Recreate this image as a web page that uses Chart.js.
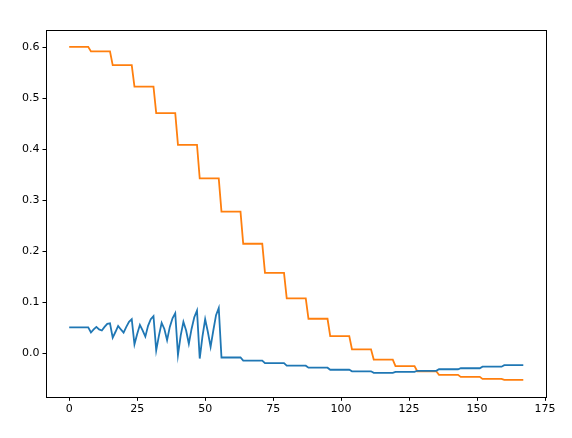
<!DOCTYPE html>
<html>
<head>
<meta charset="utf-8">
<script src="https://cdn.jsdelivr.net/npm/chart.js@4/dist/chart.umd.min.js"></script>
<style>
  html, body { margin: 0; padding: 0; background: #fff; }
  #wrap { width: 572px; height: 438px; }
</style>
</head>
<body>
<div id="wrap"><canvas id="canvas"></canvas></div>
<script>
// orange series: one level per block of 8 steps
const orangeLevels = [0.601, 0.592, 0.565, 0.523, 0.471, 0.409, 0.343, 0.278, 0.215, 0.158,
  0.108, 0.068, 0.034, 0.008, -0.012, -0.025, -0.035, -0.042, -0.046, -0.050, -0.052];

// blue series: flat start, noisy part (x 8..55), then levels per block of 8
const blueStart = [0.051, 0.051, 0.051, 0.051, 0.051, 0.051, 0.051, 0.051];
const blueNoisy = [0.041, 0.047, 0.052, 0.047, 0.045, 0.052, 0.058, 0.059,
  0.031, 0.042, 0.054, 0.047, 0.041, 0.052, 0.062, 0.067,
  0.018, 0.038, 0.056, 0.045, 0.033, 0.054, 0.067, 0.073,
  0.006, 0.035, 0.060, 0.048, 0.026, 0.052, 0.069, 0.079,
  -0.003, 0.035, 0.062, 0.045, 0.019, 0.048, 0.071, 0.084,
  -0.010, 0.033, 0.067, 0.042, 0.013, 0.045, 0.075, 0.089];
const blueLevels = [-0.008, -0.014, -0.019, -0.024, -0.028, -0.032, -0.035, -0.038,
  -0.036, -0.034, -0.031, -0.029, -0.026, -0.023];

const xTicks = [0, 25, 50, 75, 100, 125, 150, 175];
const yTicks = [0.0, 0.1, 0.2, 0.3, 0.4, 0.5, 0.6];

const blockSize = 8;
const orange = [];
orangeLevels.forEach(v => { for (let i = 0; i < blockSize; i++) orange.push(v); });
const blue = blueStart.concat(blueNoisy);
blueLevels.forEach(v => { for (let i = 0; i < blockSize; i++) blue.push(v); });

const toPoints = arr => arr.map((y, x) => ({ x, y }));

const frame = {
  id: 'frame',
  afterDraw(chart) {
    const { ctx, chartArea: a } = chart;
    ctx.save();
    ctx.strokeStyle = '#000';
    ctx.lineWidth = 1;
    ctx.strokeRect(Math.round(a.left) + 0.5, Math.round(a.top) + 0.5,
      Math.round(a.right - a.left), Math.round(a.bottom - a.top));
    ctx.restore();
  }
};

const tickFont = { family: 'DejaVu Sans', size: 11 };

new Chart(document.getElementById('canvas'), {
  type: 'scatter',
  data: {
    datasets: [
      { data: toPoints(blue), borderColor: '#1f77b4', backgroundColor: '#1f77b4',
        showLine: true, borderWidth: 1.8, pointRadius: 0, tension: 0 },
      { data: toPoints(orange), borderColor: '#ff7f0e', backgroundColor: '#ff7f0e',
        showLine: true, borderWidth: 1.8, pointRadius: 0, tension: 0 }
    ]
  },
  options: {
    animation: false,
    responsive: true,
    maintainAspectRatio: false,
    layout: { padding: { left: 19, right: 26, top: 30, bottom: 20 } },
    plugins: { legend: { display: false }, tooltip: { enabled: false } },
    scales: {
      x: {
        type: 'linear', min: -8.35, max: 175.35,
        afterBuildTicks: s => { s.ticks = xTicks.map(v => ({ value: v })); },
        ticks: { color: '#000', font: tickFont, maxRotation: 0, padding: 2 },
        grid: { drawOnChartArea: false, tickLength: 4, color: '#000' },
        border: { display: false }
      },
      y: {
        min: -0.085, max: 0.634,
        afterBuildTicks: s => { s.ticks = yTicks.map(v => ({ value: v })); },
        ticks: { color: '#000', font: tickFont, padding: 3, callback: v => v.toFixed(1) },
        grid: { drawOnChartArea: false, tickLength: 4, color: '#000' },
        border: { display: false }
      }
    }
  },
  plugins: [frame]
});
</script>
</body>
</html>
